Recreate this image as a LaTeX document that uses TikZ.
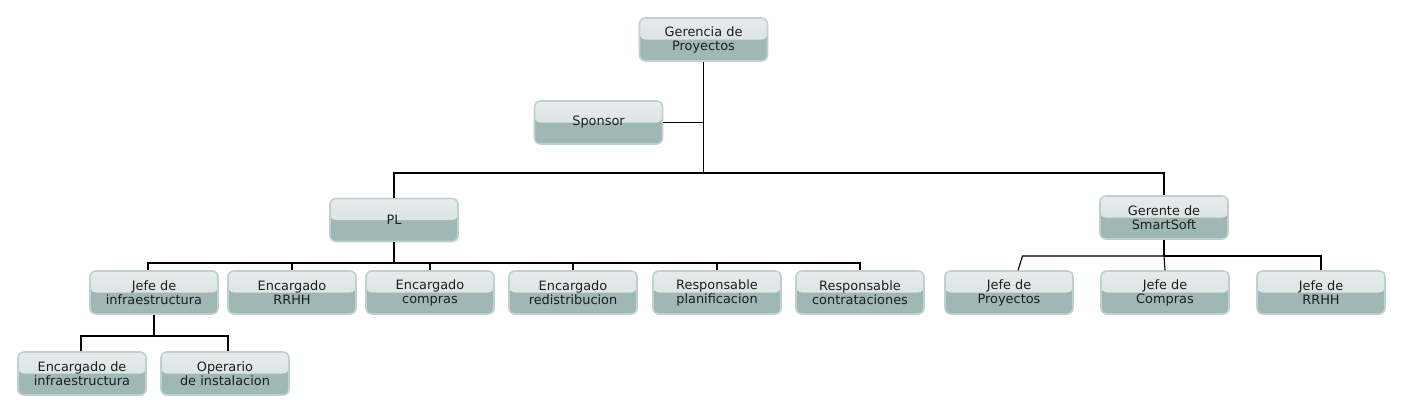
\documentclass[tikz,border=0pt]{standalone}
\usepackage{fontspec}
\setmainfont{DejaVu Sans}
\definecolor{boxtop}{HTML}{E6ECEC}
\definecolor{boxmid}{HTML}{D3DCDC}
\definecolor{boxlow}{HTML}{9FB8B6}
\definecolor{boxedge}{HTML}{BFD0CE}
\definecolor{txt}{HTML}{1E1E1E}
\tikzset{
  orgbox/.style={draw=boxedge, line width=1.6pt, rounded corners=6pt, fill=boxlow,
    minimum width=128pt, minimum height=43pt, inner sep=2pt, align=center,
    text=txt, font=\fontsize{12.9}{14}\selectfont,
    path picture={\fill[top color=boxtop, bottom color=boxmid]
      (path picture bounding box.north west) rectangle (path picture bounding box.east);}},
  link/.style={draw=black, line width=1.1pt}
}
\begin{document}
\begin{tikzpicture}[x=1pt,y=-1pt]
\useasboundingbox (0,0) rectangle (1404,413);
% nodes
\node[orgbox] (ger) at (703.5,39.5) {Gerencia de\\Proyectos};
\node[orgbox] (spo) at (598.5,122.5) {Sponsor};
\node[orgbox] (pl)  at (394,220) {PL};
\node[orgbox] (gss) at (1164,217.5) {Gerente de\\SmartSoft};
\node[orgbox] (c1) at (154,292.5) {Jefe de\\infraestructura};
\node[orgbox] (c2) at (292,292.5) {Encargado\\RRHH};
\node[orgbox] (c3) at (430,292.5) {Encargado\\compras};
\node[orgbox] (c4) at (573,292.5) {Encargado\\redistribucion};
\node[orgbox] (c5) at (717,292.5) {Responsable\\planificacion};
\node[orgbox] (c6) at (860,292.5) {Responsable\\contrataciones};
\node[orgbox] (d1) at (82,373.5) {Encargado de\\infraestructura};
\node[orgbox] (d2) at (225,373.5) {Operario\\de instalacion};
\node[orgbox] (s1) at (1009,292.5) {Jefe de\\Proyectos};
\node[orgbox] (s2) at (1165,292.5) {Jefe de\\Compras};
\node[orgbox] (s3) at (1321,292.5) {Jefe de\\RRHH};
% junction points
\coordinate (j1) at (703.5,173);
\coordinate (j2) at (394,263);
\coordinate (j3) at (154,336);
\coordinate (j4) at (1164,256);
\coordinate (j4a) at (1022.5,256);
% connectors
\draw[link] (ger.south) -- (j1);
\draw[link] (spo.east) -- (spo.east -| ger.south);
\draw[link] (pl.north) |- (j1) -| (gss.north);
\draw[link] (pl.south) -- (j2);
\draw[link] (j2) -| ([xshift=-6pt]c1.north);
\draw[link] (j2) -| (c2.north);
\draw[link] (j2) -| (c3.north);
\draw[link] (j2) -| (c4.north);
\draw[link] (j2) -| (c5.north);
\draw[link] (j2) -| (c6.north);
\draw[link] (c1.south) -- (j3);
\draw[link] (j3) -| ([xshift=-1pt]d1.north);
\draw[link] (j3) -| ([xshift=3pt]d2.north);
\draw[link] (gss.south) -- (j4);
\draw[link] (j4) -- (j4a) -- ([xshift=9pt]s1.north);
\draw[link] (j4) -- (s2.north);
\draw[link] (j4) -| (s3.north);
\end{tikzpicture}
\end{document}
